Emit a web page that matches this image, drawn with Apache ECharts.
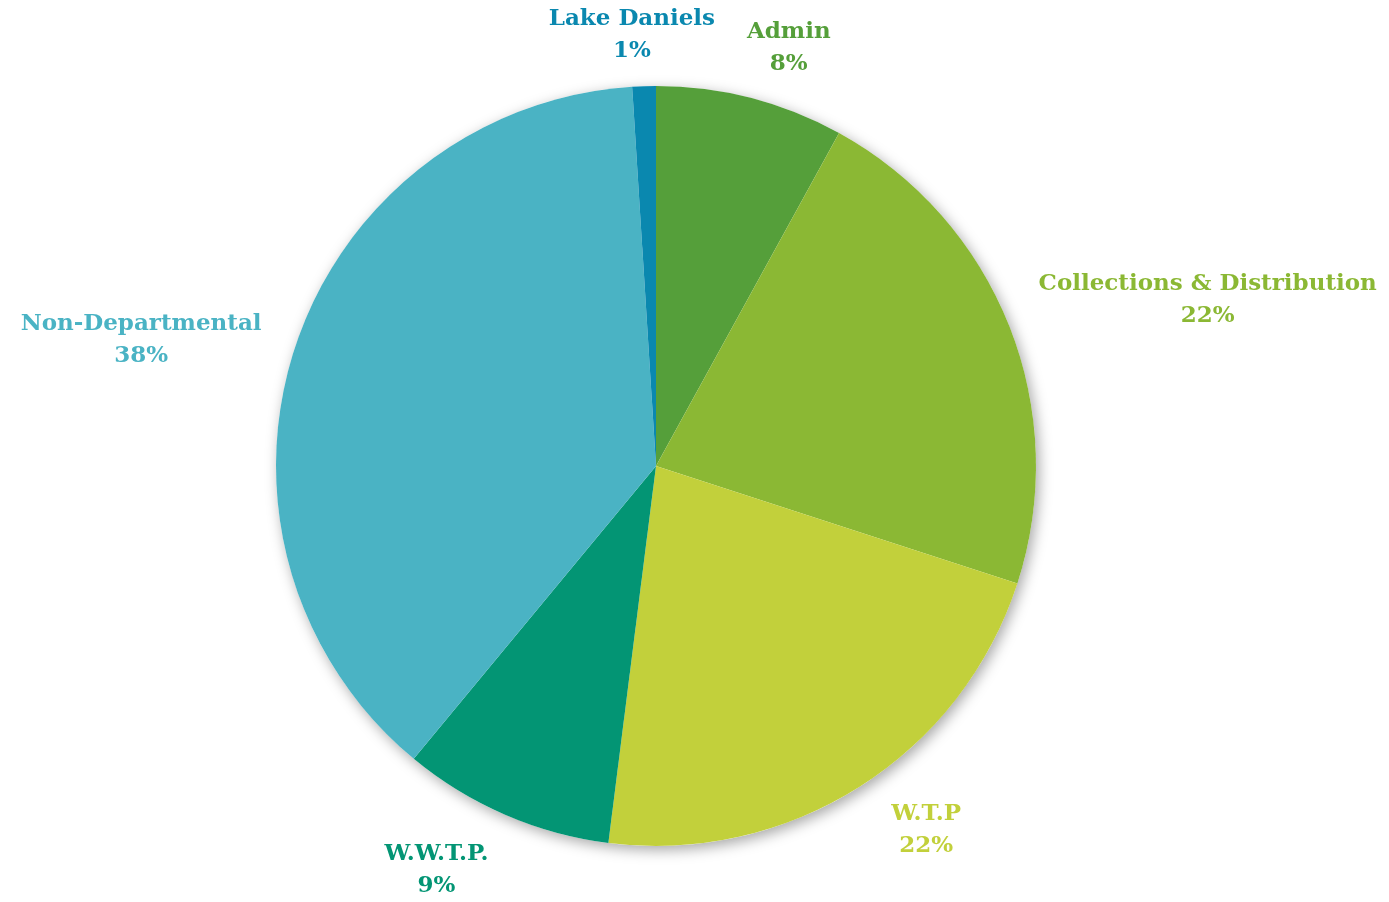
<!DOCTYPE html>
<html>
<head>
<meta charset="utf-8">
<style>
  html, body { margin: 0; padding: 0; background: #ffffff; }
  #chart { width: 1389px; height: 902px; }
</style>
<script src="https://cdn.jsdelivr.net/npm/echarts@6/dist/echarts.min.js"></script>
</head>
<body>
<div id="chart"></div>
<script>
// Budget share by department (percent)
const categories = ['Admin', 'Collections & Distribution', 'W.T.P', 'W.W.T.P.', 'Non-Departmental', 'Lake Daniels'];
const shares = [8, 22, 22, 9, 38, 1];
const colors = ['#559F3A', '#8BB834', '#C2D03B', '#039574', '#4AB3C4', '#0A88AF'];

// Label placement around the pie: [distance from centre in px, angle nudge in degrees]
const labelPlacement = [[439, 3.2], [576, 4.9], [453, -4.2], [460, 5.1], [530, -4.3], [432, -1.4]];

const CENTER = [656, 466];
const RADIUS = 380;

const total = shares.reduce((a, b) => a + b, 0);
const midAngles = [];
let acc = 0;
shares.forEach(v => {
  midAngles.push((acc + v / 2) / total * 360);
  acc += v;
});

const chart = echarts.init(document.getElementById('chart'), null, { renderer: 'canvas' });

chart.setOption({
  backgroundColor: '#ffffff',
  animation: false,
  series: [
    {
      // soft drop shadow behind the whole disc
      type: 'pie',
      silent: true,
      center: CENTER,
      radius: RADIUS,
      z: 1,
      label: { show: false },
      labelLine: { show: false },
      itemStyle: {
        color: '#ffffff',
        shadowBlur: 14,
        shadowColor: 'rgba(0,0,0,0.35)',
        shadowOffsetX: 3,
        shadowOffsetY: 4
      },
      data: [{ value: 1 }]
    },
    {
      type: 'pie',
      center: CENTER,
      radius: RADIUS,
      startAngle: 90,
      clockwise: true,
      z: 2,
      avoidLabelOverlap: false,
      data: categories.map((name, i) => ({
        name: name,
        value: shares[i],
        itemStyle: { color: colors[i] },
        label: { color: colors[i] }
      })),
      itemStyle: { borderWidth: 0 },
      labelLine: { show: false },
      label: {
        show: true,
        position: 'outside',
        formatter: p => p.name + '\n' + p.value + '%',
        fontFamily: '"DejaVu Serif", serif',
        fontWeight: 'bold',
        fontSize: 23,
        lineHeight: 32,
        align: 'center'
      },
      labelLayout: function (params) {
        const i = params.dataIndex;
        const [dist, nudge] = labelPlacement[i];
        const a = (midAngles[i] + nudge) * Math.PI / 180;
        return {
          x: CENTER[0] + dist * Math.sin(a),
          y: CENTER[1] - dist * Math.cos(a),
          align: 'center',
          verticalAlign: 'middle'
        };
      }
    }
  ]
});
</script>
</body>
</html>
